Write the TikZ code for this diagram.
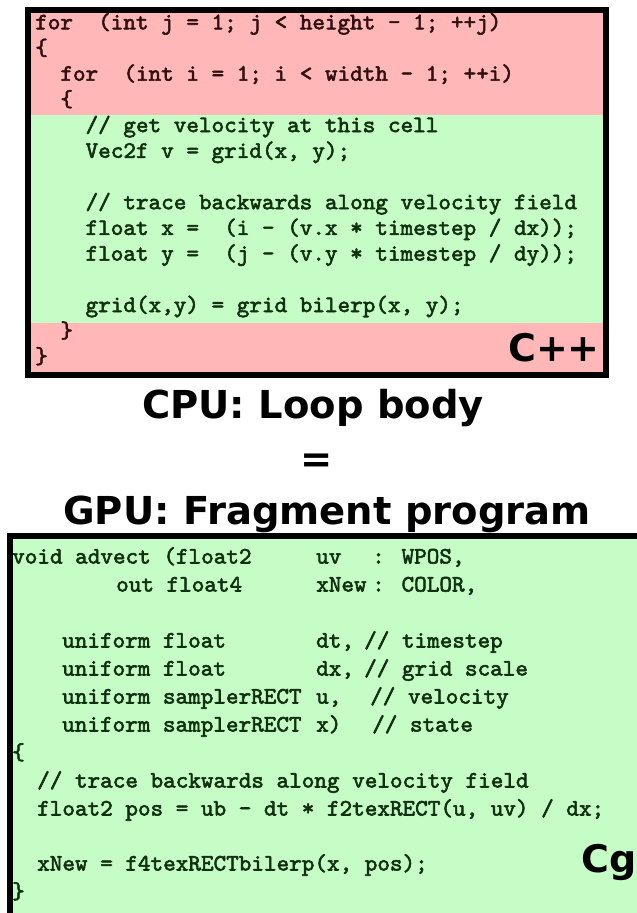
\documentclass[tikz,border=0pt]{standalone}
\usepackage{fontspec}
\newfontfamily\headfont{DejaVu Sans}
\newfontfamily\codefont{lmmono10-regular.otf}[FakeBold=2.4,FakeStretch=1.0213]
\definecolor{pinkfill}{HTML}{FFB7B7}
\definecolor{greenfill}{HTML}{C6FCC6}
\definecolor{redtext}{HTML}{301010}
\definecolor{greentext}{HTML}{103010}
\tikzset{
  code/.style={anchor=base west, inner sep=0pt, font=\codefont\fontsize{23.5}{25}\selectfont},
  codered/.style={code, text=redtext},
  codegreen/.style={code, text=greentext},
  heading/.style={anchor=base, inner sep=0pt, font=\headfont\bfseries\fontsize{38.5}{40}\selectfont, text=black},
  lang/.style={inner sep=0pt, font=\headfont\bfseries\fontsize{38}{40}\selectfont, text=black},
  frame/.style={draw=black, line width=6pt}
}
\begin{document}
\begin{tikzpicture}[x=1pt,y=-1pt]
\useasboundingbox (0,0) rectangle (637,913);
\clip (0,0) rectangle (637,913);
\fill[white] (0,0) rectangle (637,913);
% ---------- top box (C++) ----------
\fill[pinkfill] (31,13) rectangle (603,115);
\fill[greenfill] (31,115) rectangle (603,323);
\fill[pinkfill] (31,323) rectangle (603,372);
\node[codered]   (t1)  at (35,29.3)     {for~~(int j = 1; j < height - 1; ++j)};
\node[codered]   (t2)  at (35,55)   {\{};
\node[codered]   (t3)  at (60.2,80.7) {for~~(int i = 1; i < width - 1; ++i)};
\node[codered]   (t4)  at (60.2,106.4) {\{};
\node[codegreen] (t5)  at (85.4,132.1) {// get velocity at this cell};
\node[codegreen] (t6)  at (85.4,157.8) {Vec2f v = grid(x, y);};
\node[codegreen] (t7)  at (85.4,209.2) {// trace backwards along velocity field};
\node[codegreen] (t8)  at (85.4,234.9) {float x =~~(i - (v.x * timestep / dx));};
\node[codegreen] (t9)  at (85.4,260.6) {float y =~~(j - (v.y * timestep / dy));};
\node[codegreen] (t10) at (85.4,312) {grid(x,y) = grid bilerp(x, y);};
\node[codered]   (t11) at (60.2,337.7) {\}};
\node[codered]   (t12) at (35,363.4)   {\}};
\draw[frame] (28,10) rectangle (606,375);
\node[lang, anchor=base east] (cpp) at (600,361) {C++};
% ---------- headings ----------
\node[heading] (h1) at (313,418) {CPU: Loop body};
\node[heading] (h2) at (317,472) {=};
\node[heading] (h3) at (327,524) {GPU: Fragment program};
% ---------- bottom box (Cg) ----------
\fill[greenfill] (13,539) rectangle (660,930);
\node[codegreen] (b0a) at (12,563.5)  {void advect (float2};
\node[codegreen] (b0b) at (316,563.5) {uv};
\node[codegreen] (b0c) at (372,563.5) {: WPOS,};
\node[codegreen] (b1a) at (116,591.5) {out float4};
\node[codegreen] (b1b) at (316,591.5) {xNew};
\node[codegreen] (b1c) at (372,591.5) {: COLOR,};
\node[codegreen] (b3a) at (62,647.5)  {uniform float};
\node[codegreen] (b3b) at (316,647.5) {dt,};
\node[codegreen] (b3c) at (364,647.5) {// timestep};
\node[codegreen] (b4a) at (62,675.5)  {uniform float};
\node[codegreen] (b4b) at (316,675.5) {dx,};
\node[codegreen] (b4c) at (364,675.5) {// grid scale};
\node[codegreen] (b5a) at (62,703.5)  {uniform samplerRECT};
\node[codegreen] (b5b) at (316,703.5) {u,};
\node[codegreen] (b5c) at (370,703.5) {// velocity};
\node[codegreen] (b6a) at (62,731.5)  {uniform samplerRECT};
\node[codegreen] (b6b) at (316,731.5) {x)};
\node[codegreen] (b6c) at (372,731.5) {// state};
\node[codegreen] (b7)  at (12,759.5)  {\{};
\node[codegreen] (b8)  at (37,787.5)  {// trace backwards along velocity field};
\node[codegreen] (b9)  at (37,815.5)  {float2 pos = ub - dt * f2texRECT(u, uv) / dx;};
\node[codegreen] (b11) at (37,870.5)  {xNew = f4texRECTbilerp(x, pos);};
\node[codegreen] (b12) at (12,898.5)  {\}};
\draw[frame] (10,536) rectangle (663,933);
\node[lang, anchor=base west] (cg) at (581,872) {Cg};
\end{tikzpicture}
\end{document}
